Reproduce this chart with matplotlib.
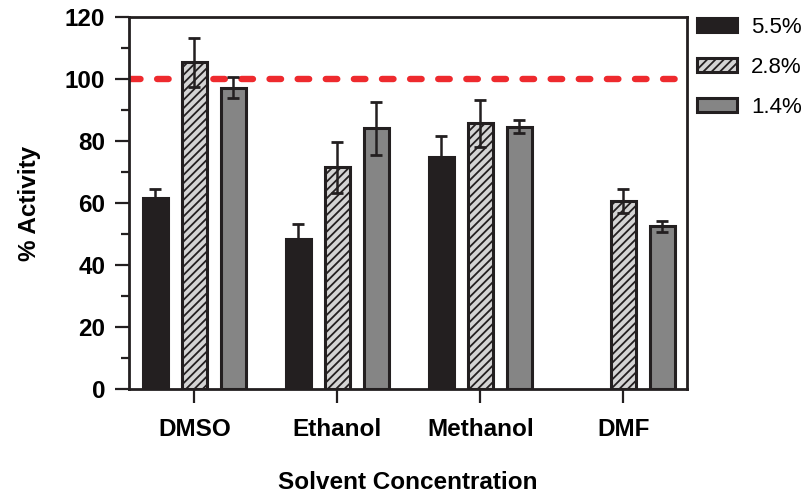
import numpy as np
import matplotlib
matplotlib.use("Agg")
from matplotlib import pyplot as plt
from matplotlib.ticker import MultipleLocator

# === DATA ===
solvents = ["DMSO", "Ethanol", "Methanol", "DMF"]
conc_labels = ["5.5%", "2.8%", "1.4%"]

act_55 = [61.6, 48.5, 74.8, np.nan]
err_55 = [3.0, 4.7, 7.0, np.nan]
act_28 = [105.4, 71.6, 85.8, 60.7]
err_28 = [7.8, 8.3, 7.6, 4.0]
act_14 = [97.3, 84.2, 84.6, 52.6]
err_14 = [3.4, 8.5, 2.1, 1.8]

# === STYLE ===
plt.rcParams["font.family"] = ["Liberation Sans", "DejaVu Sans"]
plt.rcParams["hatch.linewidth"] = 1.3
EDGE = "#231f20"
colors = ["#231f20", "#d4d4d4", "#858585"]
hatches = [None, "////", None]
FS = 17.5

fig = plt.figure(figsize=(8.11, 4.92), dpi=100)
ax = fig.add_axes([0.159, 0.209, 0.688, 0.756])

x = np.arange(len(solvents))
offset = 0.273
width = 0.172

# reference line sits behind the bars
ax.axhline(100, color="#ee2a2e", linewidth=4.6, linestyle=(0, (1.8, 2.6)),
           dash_capstyle="round", xmin=0, xmax=0.985, zorder=1)

series = [(act_55, err_55), (act_28, err_28), (act_14, err_14)]
handles = []
for i, (vals, errs) in enumerate(series):
    pos = x + (i - 1) * offset
    b = ax.bar(pos, vals, width, color=colors[i], edgecolor=EDGE, linewidth=2.2,
               hatch=hatches[i], label=conc_labels[i], zorder=2)
    handles.append(b)
    ax.errorbar(pos, vals, yerr=errs, fmt="none", ecolor=EDGE, elinewidth=1.8,
                capsize=4.5, capthick=2.0, zorder=3)

ax.set_xlim(-0.458, 3.444)
ax.set_ylim(0, 120)
ax.yaxis.set_major_locator(MultipleLocator(20))
ax.yaxis.set_minor_locator(MultipleLocator(10))
ax.set_xticks(x)
ax.set_xticklabels(solvents, fontsize=FS, fontweight="bold")
for lab in ax.get_yticklabels():
    lab.set_fontsize(FS)
    lab.set_fontweight("bold")

for sp in ax.spines.values():
    sp.set_linewidth(2.0)
    sp.set_color(EDGE)
ax.tick_params(axis="both", which="major", length=10, width=1.6, color=EDGE, pad=7)
ax.tick_params(axis="x", which="major", pad=10.5)
ax.tick_params(axis="y", which="minor", length=6, width=1.6, color=EDGE)

ax.set_ylabel("% Activity", fontsize=FS, fontweight="bold", labelpad=17.5)
ax.set_xlabel("Solvent Concentration", fontsize=FS, fontweight="bold", labelpad=21.5)

fig.legend(handles=handles, labels=conc_labels, loc="upper left",
           bbox_to_anchor=(697 / 811, 1 - 17 / 492), frameon=False,
           fontsize=16, handlelength=1.8, handleheight=0.6,
           handletextpad=0.63, labelspacing=0.86, borderpad=0, borderaxespad=0)

fig.savefig("out.png", dpi=100)
